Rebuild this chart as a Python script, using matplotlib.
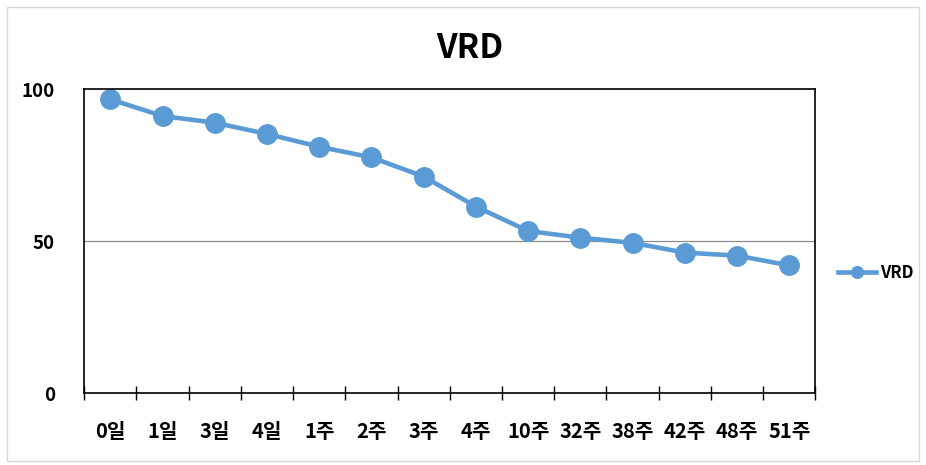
import matplotlib
matplotlib.use("Agg")
import matplotlib.pyplot as plt
from matplotlib.patches import Rectangle

plt.rcParams['font.family'] = ['Noto Sans CJK KR', 'DejaVu Sans']

labels = ['0일', '1일', '3일', '4일', '1주', '2주', '3주', '4주',
          '10주', '32주', '38주', '42주', '48주', '51주']
vrd = [96.7, 91.2, 89.0, 85.3, 81.1, 77.6, 71.3, 61.4,
       53.4, 51.2, 49.5, 46.3, 45.3, 42.1]

line_color = '#5b9bd5'

fig = plt.figure(figsize=(9.26, 4.65), dpi=100)
fig.patches.append(Rectangle((0.008, 0.008), 0.984, 0.977, transform=fig.transFigure,
                             fill=False, edgecolor='#d9d9d9', linewidth=1))
ax = fig.add_axes([0.091, 0.154, 0.7895, 0.654])

x = list(range(len(labels)))
ax.plot(x, vrd, color=line_color, linewidth=3.3, marker='o', markersize=14,
        markerfacecolor=line_color, markeredgecolor=line_color, label='VRD')

ax.set_xlim(-0.5, len(labels) - 0.5)
ax.set_ylim(0, 100)
ax.set_yticks([0, 50, 100])
ax.axhline(50, color='#8c8c8c', linewidth=0.9, zorder=0)

# category labels sit between the tick marks, like an Excel category axis
ax.set_xticks([i - 0.5 for i in range(len(labels) + 1)])
ax.set_xticklabels([])
ax.set_xticks(x, minor=True)
ax.set_xticklabels(labels, minor=True, fontsize=14.5, fontweight='bold')
ax.tick_params(axis='x', which='major', direction='inout', length=10, width=1, color='black')
ax.tick_params(axis='x', which='minor', length=0, pad=20)
ax.tick_params(axis='y', length=0, pad=21)
for lbl in ax.get_yticklabels():
    lbl.set_fontsize(13.5)
    lbl.set_fontweight('bold')

for spine in ax.spines.values():
    spine.set_color('black')
    spine.set_linewidth(1.2)

fig.text(0.507, 0.895, 'VRD', ha='center', va='center', fontsize=24, fontweight='bold')

ax.legend(loc='center left', bbox_to_anchor=(1.017, 0.395), frameon=False,
          handlelength=2.3, markerscale=0.6, prop={'size': 12, 'weight': 'bold'},
          handletextpad=0.25, borderaxespad=0.2)

fig.savefig('out.png', dpi=100)
